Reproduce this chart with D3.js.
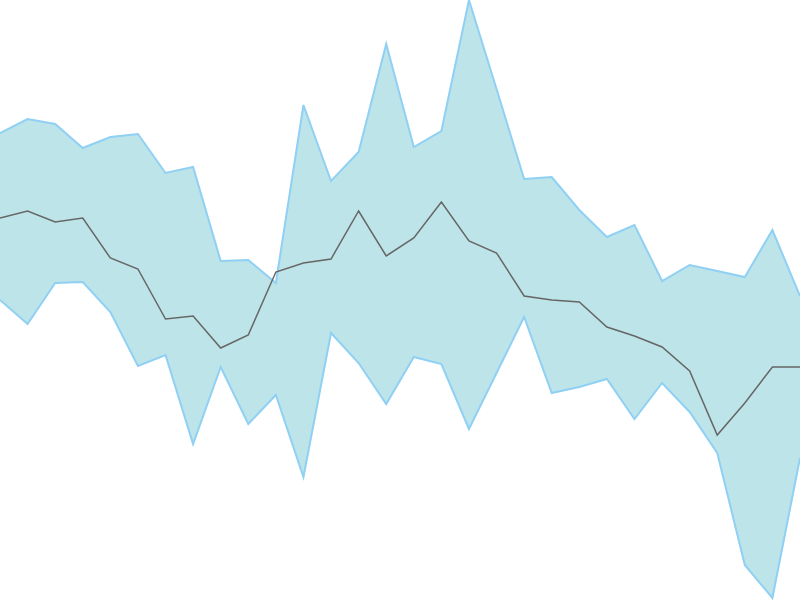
<!DOCTYPE html>
<html>
<head>
<meta charset="utf-8">
<script src="https://cdn.jsdelivr.net/npm/d3@7"></script>
<style>
  html, body { margin: 0; padding: 0; background: #fff; overflow: hidden; }
  svg { display: block; }
</style>
</head>
<body>
<svg id="chart" width="800" height="600"></svg>
<script>
// Data (arbitrary units: 0 bottom, 600 top)
const indices = d3.range(30);
const upperValues = [467, 481, 476, 452, 463, 466, 427, 433, 339, 340, 317, 495, 419, 448, 556, 453, 469, 600, 511, 421, 423, 390, 363, 375, 319, 335, 329, 323, 370, 304];
const meanValues  = [382, 389, 378, 382, 342, 331, 281, 284, 252, 265, 328, 337, 341, 389, 344, 362, 398, 359, 347, 304, 300, 298, 273, 264, 253, 229, 165, 197, 233, 233];
const lowerValues = [300, 276, 317, 318, 288, 234, 245, 156, 233, 176, 205, 123, 267, 237, 196, 243, 236, 171, 227, 283, 207, 213, 221, 181, 217, 188, 147, 35, 2, 142];

const width = 800, height = 600;
const svg = d3.select("#chart");

const x = d3.scaleLinear().domain([0, 29]).range([0, width]);
const y = d3.scaleLinear().domain([0, 600]).range([height, 0]);

const data = indices.map(i => ({ i, hi: upperValues[i], mid: meanValues[i], lo: lowerValues[i] }));

const area = d3.area()
  .x(d => x(d.i))
  .y0(d => y(d.lo))
  .y1(d => y(d.hi));

svg.append("path")
  .datum(data)
  .attr("d", area)
  .attr("fill", "#bde4e8")
  .attr("stroke", "none");

const upperLine = d3.line().x(d => x(d.i)).y(d => y(d.hi));
const lowerLine = d3.line().x(d => x(d.i)).y(d => y(d.lo));
const midLine = d3.line().x(d => x(d.i)).y(d => y(d.mid));

svg.append("path").datum(data).attr("d", upperLine)
  .attr("fill", "none").attr("stroke", "#8fd0f4").attr("stroke-width", 2);
svg.append("path").datum(data).attr("d", lowerLine)
  .attr("fill", "none").attr("stroke", "#8fd0f4").attr("stroke-width", 2);
svg.append("path").datum(data).attr("d", midLine)
  .attr("fill", "none").attr("stroke", "#666666").attr("stroke-width", 1.5);
</script>
</body>
</html>
